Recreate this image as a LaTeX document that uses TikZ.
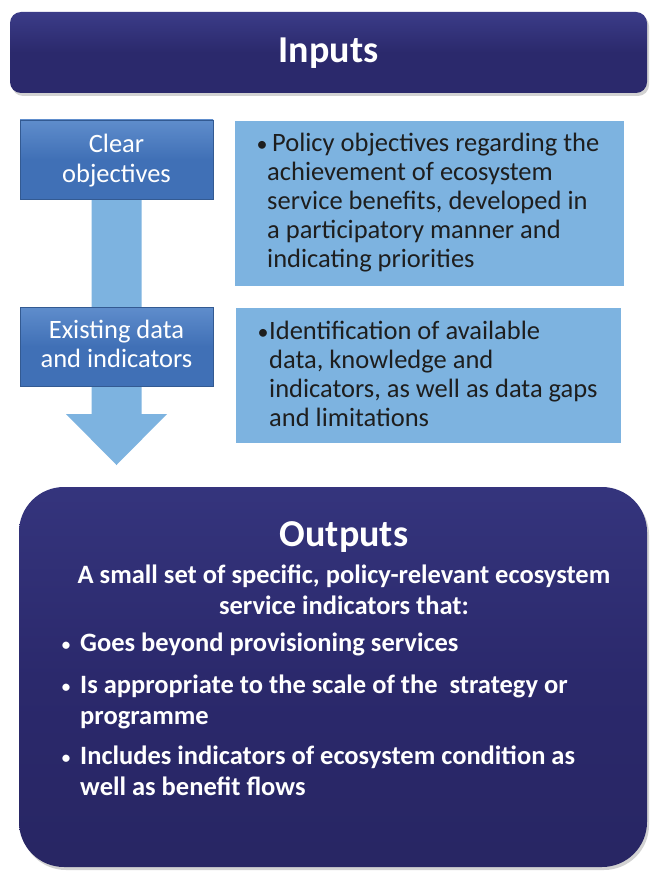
\documentclass[tikz,border=0pt]{standalone}
\usepackage{fontspec}
\setmainfont{Carlito}
\usetikzlibrary{shadows,calc}
\definecolor{navy}{HTML}{2B296C}
\definecolor{navytop}{HTML}{3B3C88}
\definecolor{midblue}{HTML}{4070B6}
\definecolor{midbluetop}{HTML}{5F8DCC}
\definecolor{lightblue}{HTML}{7DB3E0}
\definecolor{txtdark}{HTML}{1E1E1E}
\newcommand{\tlines}[1]{\begin{tabular}[t]{@{}l@{}}#1\end{tabular}}
\newcommand{\tclines}[1]{\begin{tabular}[t]{@{}c@{}}#1\end{tabular}}
\tikzset{
  banner/.style={rounded corners=11pt, top color=navytop, bottom color=navy, middle color=navy,
    draw=none, drop shadow={shadow xshift=2pt, shadow yshift=-3pt, opacity=0.35},
    minimum width=637pt, minimum height=81pt},
  titletext/.style={text=white, inner sep=0pt, anchor=base, font=\bfseries\fontsize{38}{42}\selectfont},
  stagebox/.style={top color=midbluetop, bottom color=midblue, middle color=midblue, draw=midblue!80!black, line width=0.4pt,
    minimum width=193pt, minimum height=79pt, inner sep=0pt},
  stagetext/.style={text=white, inner sep=0pt, anchor=base, font=\fontsize{26.5}{29}\selectfont},
  infobox/.style={fill=lightblue, draw=none, inner sep=0pt},
  infotext/.style={anchor=base west, text=txtdark, inner sep=0pt,
    font=\fontsize{26.5}{29}\selectfont},
  bul/.style={anchor=base, text=txtdark, inner sep=0pt, font=\fontsize{22}{29}\selectfont},
  outbox/.style={rounded corners=45pt, top color=navytop!60!navy, bottom color=navy!92!black, middle color=navy, draw=none,
    drop shadow={shadow xshift=2pt, shadow yshift=-3pt, opacity=0.35}},
  outtext/.style={text=white, inner sep=0pt, font=\bfseries\fontsize{26.5}{31}\selectfont},
  outbul/.style={text=white, inner sep=0pt, anchor=base, font=\bfseries\fontsize{17}{31}\selectfont},
  blockarrow/.style={fill=lightblue, draw=none}
}
\begin{document}
\begin{tikzpicture}[x=1pt,y=-1pt]
\useasboundingbox (0,0) rectangle (657,872);
\fill[white] (0,0) rectangle (657,872);

% Inputs banner
\node[banner] (inputs) at (328.5,52.5) {};
\node[titletext] (inputstitle) at (328.5,63) {Inputs};

% block arrow (behind stage boxes)
\coordinate (shaftTop) at (116.5,199);
\coordinate (tip) at (116.5,465);
\fill[blockarrow] ($(shaftTop)+(-25,0)$) -- ($(shaftTop)+(25,0)$) -- ($(tip)+(25,-51)$)
  -- ($(tip)+(50.5,-51)$) -- (tip) -- ($(tip)+(-50.5,-51)$) -- ($(tip)+(-25,-51)$) -- cycle;

% stage boxes
\node[stagebox] (clear) at (116.5,159.5) {};
\node[stagetext] (cleartext) at (116.5,153) {\tclines{Clear\\objectives}};
\node[stagebox] (exist) at (116.5,346.5) {};
\node[stagetext] (existtext) at (116.5,338) {\tclines{Existing data\\and indicators}};

% info boxes
\node[infobox, minimum width=389pt, minimum height=165pt] (policy) at (429.5,203.5) {};
\node[bul] (pb) at (262,151) {\textbullet};
\node[infotext] (pt) at (267,151) {\tlines{\hspace*{5pt}Policy objectives regarding the\\achievement of ecosystem\\service benefits, developed in\\a participatory manner and\\indicating priorities}};

\node[infobox, minimum width=385pt, minimum height=135pt] (ident) at (428.5,375.5) {};
\node[bul] (ib) at (263,339) {\textbullet};
\node[infotext] (it) at (269,339) {\tlines{Identification of available\\data, knowledge and\\indicators, as well as data gaps\\and limitations}};

% Outputs box
\node[outbox, minimum width=628pt, minimum height=380pt] (outputs) at (333,677) {};
\node[titletext] (outtitle) at (344,546) {Outputs};
\node[outtext, anchor=base] (outsub) at (344,583) {\tclines{A small set of specific, policy-relevant ecosystem\\service indicators that:}};
\node[outbul] (b1) at (66,650) {\textbullet};
\node[outtext, anchor=base west] (o1) at (80,651) {Goes beyond provisioning services};
\node[outbul] (b2) at (66,692) {\textbullet};
\node[outtext, anchor=base west] (o2) at (80,693) {\tlines{Is appropriate to the scale of the\ \ strategy or\\programme}};
\node[outbul] (b3) at (66,763) {\textbullet};
\node[outtext, anchor=base west] (o3) at (80,764) {\tlines{Includes indicators of ecosystem condition as\\well as benefit flows}};
\end{tikzpicture}
\end{document}
